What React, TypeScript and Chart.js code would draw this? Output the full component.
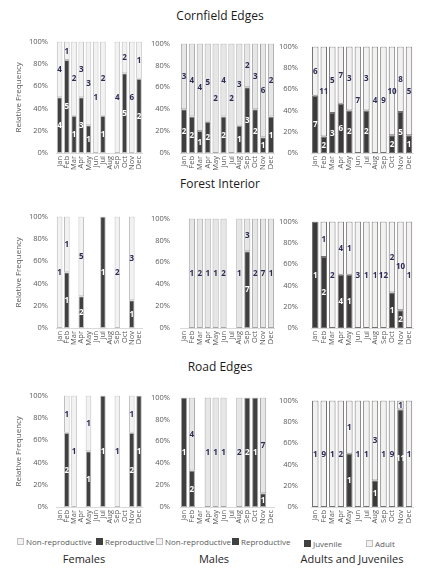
import React, { useEffect, useRef } from "react";
import { Chart, registerables, Plugin } from "chart.js";

Chart.register(...registerables);

type N = number | null;

const MONTHS = ["Jan", "Feb", "Mar", "Apr", "May", "Jun", "Jul", "Aug", "Sep", "Oct", "Nov", "Dec"];
const Y_TICKS = [0, 20, 40, 60, 80, 100];

// Cornfield Edges (counts per month, null = no sample)
const cornFemaleRepro: N[] = [4, 5, 1, 3, 1, 0, 1, null, 0, 5, 0, 2];
const cornFemaleNonRepro: N[] = [4, 1, 2, 3, 3, 1, 2, null, 4, 2, 6, 1];
const cornMaleRepro: N[] = [2, 2, 1, 2, 0, 2, 0, 1, 3, 2, 1, 1];
const cornMaleNonRepro: N[] = [3, 4, 4, 5, 2, 4, 2, 3, 2, 3, 6, 2];
const cornJuvenile: N[] = [7, 2, 3, 6, 2, 0, 2, 0, 0, 2, 5, 1];
const cornAdult: N[] = [6, 11, 5, 7, 3, 7, 3, 4, 9, 10, 8, 5];

// Forest Interior
const forestFemaleRepro: N[] = [0, 1, null, 2, null, null, 1, null, 0, null, 1, null];
const forestFemaleNonRepro: N[] = [1, 1, null, 5, null, null, 0, null, 2, null, 3, null];
const forestMaleRepro: N[] = [null, 0, 0, 0, 0, 0, null, 0, 7, 0, 0, 0];
const forestMaleNonRepro: N[] = [null, 1, 2, 1, 1, 2, null, 1, 3, 2, 7, 1];
const forestJuvenile: N[] = [1, 2, 0, 4, 1, 0, 0, 0, 0, 1, 2, 0];
const forestAdult: N[] = [0, 1, 2, 4, 1, 3, 1, 1, 12, 2, 10, 1];

// Road Edges
const roadFemaleRepro: N[] = [null, 2, 0, null, 1, null, 1, null, 0, null, 2, 1];
const roadFemaleNonRepro: N[] = [null, 1, 1, null, 1, null, 0, null, 1, null, 1, 0];
const roadMaleRepro: N[] = [1, 2, null, 0, 0, 0, null, 0, 2, 1, 1, null];
const roadMaleNonRepro: N[] = [0, 4, null, 1, 1, 1, null, 2, 0, 0, 7, null];
const roadJuvenile: N[] = [0, 0, 0, 0, 1, 0, 0, 1, 0, 0, 11, 0];
const roadAdult: N[] = [1, 9, 1, 2, 1, 1, 1, 3, 1, 9, 1, 1];

const SITES = ["Cornfield Edges", "Forest Interior", "Road Edges"];
const GROUPS = ["Females", "Males", "Adults and Juveniles"];

const FONT = "'Open Sans', sans-serif";
const AXIS_GREY = "#595959";

// per column geometry / look
const COLS = [
  { left: 10, yw: 46, pad: 8, right: 151, barPct: 0.78, dark: "#404040", light: "#f2f2f2", border: "#bfbfbf" },
  { left: 146, yw: 34, pad: 10, right: 283, barPct: 0.78, dark: "#3f3f3f", light: "#e6e6e6", border: "#a6a6a6" },
  { left: 272, yw: 39, pad: 13, right: 421, barPct: 0.76, dark: "#3b3b3b", light: "#f2f2f2", border: "#767171" },
];
const ROW_TOPS = [37, 212, 391];
const PLOT_H = 116;
const PAD_TOP = 8;
const X_AXIS_H = 26;

const countLabels: Plugin<"bar"> = {
  id: "countLabels",
  afterDatasetsDraw(chart) {
    const { ctx } = chart;
    ctx.save();
    ctx.font = `bold 8px ${FONT}`;
    ctx.textAlign = "center";
    ctx.textBaseline = "middle";
    chart.data.datasets.forEach((ds: any, i) => {
      const meta = chart.getDatasetMeta(i);
      meta.data.forEach((bar: any, j) => {
        const n = ds.counts[j];
        if (!n) return;
        const { x, y, base } = bar.getProps(["x", "y", "base"], true);
        ctx.fillStyle = ds.labelColor;
        ctx.fillText(String(n), x, (y + base) / 2 + 0.5);
      });
    });
    ctx.restore();
  },
};

const pct = (a: N, b: N, own: N): N => {
  if (a === null || b === null) return null;
  const t = a + b;
  if (!t) return null;
  return ((own ?? 0) / t) * 100;
};

interface PanelProps {
  row: number;
  col: number;
  bottom: N[];
  top: N[];
}

const Panel: React.FC<PanelProps> = ({ row, col, bottom, top }) => {
  const canvasRef = useRef<HTMLCanvasElement | null>(null);
  const c = COLS[col];
  const width = c.right - c.left;
  const height = PAD_TOP + PLOT_H + X_AXIS_H;

  useEffect(() => {
    if (!canvasRef.current) return;
    const chart = new Chart(canvasRef.current, {
      type: "bar",
      data: {
        labels: MONTHS,
        datasets: [
          {
            data: bottom.map((v, i) => pct(v, top[i], v)),
            counts: bottom,
            labelColor: "#ffffff",
            backgroundColor: c.dark,
            borderColor: c.border,
            borderWidth: 1,
            borderSkipped: false,
          } as any,
          {
            data: top.map((v, i) => pct(bottom[i], v, v)),
            counts: top,
            labelColor: "#2b2b55",
            backgroundColor: c.light,
            borderColor: c.border,
            borderWidth: 1,
            borderSkipped: false,
          } as any,
        ],
      },
      options: {
        animation: false,
        responsive: false,
        maintainAspectRatio: false,
        layout: { padding: { top: PAD_TOP, left: 0, right: 0, bottom: 0 } },
        datasets: { bar: { barPercentage: c.barPct, categoryPercentage: 1 } },
        plugins: { legend: { display: false }, tooltip: { enabled: false } },
        scales: {
          x: {
            stacked: true,
            grid: { display: false, drawTicks: false },
            border: { display: true, color: "#d9d9d9" },
            ticks: {
              autoSkip: false,
              minRotation: 90,
              maxRotation: 90,
              padding: 3,
              color: AXIS_GREY,
              font: { family: FONT, size: 7.5 },
            },
            afterFit: (s: any) => {
              s.height = X_AXIS_H;
            },
          },
          y: {
            stacked: true,
            min: 0,
            max: 100,
            afterBuildTicks: (s: any) => {
              s.ticks = Y_TICKS.map((v) => ({ value: v }));
            },
            ticks: {
              padding: c.pad,
              color: AXIS_GREY,
              font: { family: FONT, size: 7.5 },
              callback: (v: any) => v + "%",
            },
            grid: { display: false, drawTicks: false },
            border: { display: false },
            title: {
              display: col === 0,
              text: "Relative Frequency",
              color: AXIS_GREY,
              font: { family: FONT, size: 8 },
              padding: { top: 4, bottom: 0 },
            },
            afterFit: (s: any) => {
              s.width = c.yw;
            },
          },
        },
      } as any,
      plugins: [countLabels],
    });
    return () => chart.destroy();
  }, [row, col, bottom, top]);

  return (
    <canvas
      ref={canvasRef}
      width={width}
      height={height}
      style={{ position: "absolute", left: c.left, top: ROW_TOPS[row] - PAD_TOP, width, height }}
    />
  );
};

const Swatch: React.FC<{ dark: boolean; label: string; x: number; y: number }> = ({ dark, label, x, y }) => (
  <div
    style={{
      position: "absolute",
      left: x,
      top: y - 6,
      height: 12,
      display: "flex",
      alignItems: "center",
      whiteSpace: "nowrap",
      fontSize: 8,
      color: AXIS_GREY,
    }}
  >
    <span
      style={{
        display: "inline-block",
        width: 5,
        height: 5,
        marginRight: 2,
        background: dark ? "#404040" : "#f2f2f2",
        border: `1px solid ${dark ? "#404040" : "#bfbfbf"}`,
      }}
    />
    {label}
  </div>
);

const App: React.FC = () => {
  const panels: [N[], N[]][][] = [
    [
      [cornFemaleRepro, cornFemaleNonRepro],
      [cornMaleRepro, cornMaleNonRepro],
      [cornJuvenile, cornAdult],
    ],
    [
      [forestFemaleRepro, forestFemaleNonRepro],
      [forestMaleRepro, forestMaleNonRepro],
      [forestJuvenile, forestAdult],
    ],
    [
      [roadFemaleRepro, roadFemaleNonRepro],
      [roadMaleRepro, roadMaleNonRepro],
      [roadJuvenile, roadAdult],
    ],
  ];
  const titleY = [16, 184, 367];
  const captionX = [84, 214, 352];

  return (
    <div
      style={{
        position: "absolute",
        left: 0,
        top: 0,
        width: 440,
        height: 571,
        background: "#fff",
        fontFamily: FONT,
        overflow: "hidden",
      }}
    >
      {SITES.map((s, i) => (
        <div
          key={s}
          style={{
            position: "absolute",
            left: 0,
            width: 440,
            top: titleY[i] - 8,
            lineHeight: "16px",
            textAlign: "center",
            fontSize: 12,
            color: "#1a1a1a",
          }}
        >
          {s}
        </div>
      ))}
      {panels.map((r, ri) =>
        r.map(([b, t], ci) => <Panel key={`${ri}-${ci}`} row={ri} col={ci} bottom={b} top={t} />)
      )}
      <Swatch dark={false} label="Non-reproductive" x={17} y={541} />
      <Swatch dark={true} label="Reproductive" x={96} y={541} />
      <Swatch dark={false} label="Non-reproductive" x={156} y={541} />
      <Swatch dark={true} label="Reproductive" x={232} y={541} />
      <Swatch dark={true} label="Juvenile" x={304} y={543} />
      <Swatch dark={false} label="Adult" x={366} y={543} />
      {GROUPS.map((g, i) => (
        <div
          key={g}
          style={{
            position: "absolute",
            left: captionX[i] - 70,
            width: 140,
            top: 551,
            lineHeight: "15px",
            textAlign: "center",
            fontSize: 11,
            color: "#262626",
          }}
        >
          {g}
        </div>
      ))}
    </div>
  );
};

export default App;
